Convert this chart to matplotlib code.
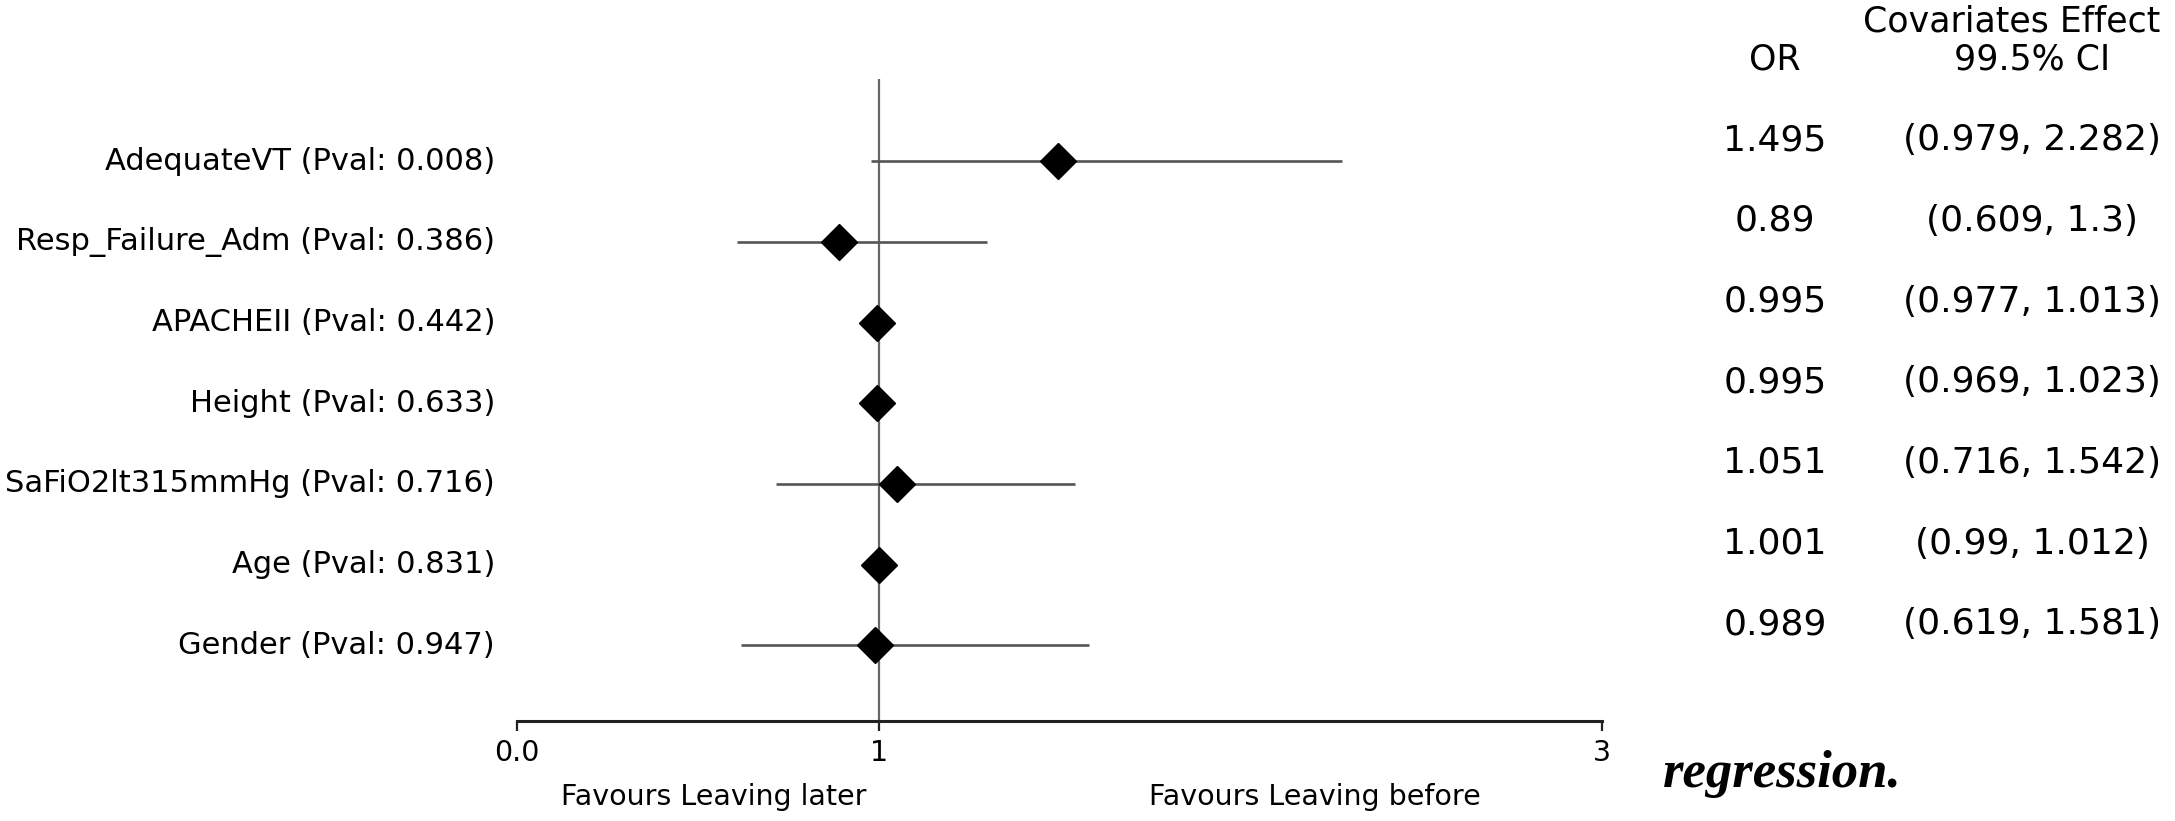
import matplotlib
matplotlib.use('Agg')
import matplotlib.pyplot as plt
import matplotlib.transforms as mtransforms

# datos del forest plot
variables = ['AdequateVT', 'Resp_Failure_Adm', 'APACHEII', 'Height',
             'SaFiO2lt315mmHg', 'Age', 'Gender']
pvals = ['0.008', '0.386', '0.442', '0.633', '0.716', '0.831', '0.947']
odds = [1.495, 0.89, 0.995, 0.995, 1.051, 1.001, 0.989]
ci_low = [0.979, 0.609, 0.977, 0.969, 0.716, 0.99, 0.619]
ci_high = [2.282, 1.3, 1.013, 1.023, 1.542, 1.012, 1.581]
xticks = [0, 1, 3]
xtick_labels = ['0.0', '1', '3']

W, H = 2175, 821
fig = plt.figure(figsize=(W / 100, H / 100), dpi=100)

# ejes: x=0 en 517px, x=3 en 1602px, eje en y=721px, tope en y=79px
ax = fig.add_axes([517 / W, 1 - 721 / H, (1602 - 517) / W, (721 - 79) / H])
ax.set_xlim(0, 3)
ax.set_ylim(6.94, -1.02)

rows = list(range(len(variables)))
ax.axvline(1, color='#666666', lw=1.6, zorder=1)
ax.hlines(rows, ci_low, ci_high, color='#555555', lw=1.9, zorder=2)
ax.plot(odds, rows, 'D', color='black', markersize=18, zorder=3)

for s in ['top', 'right', 'left']:
  ax.spines[s].set_visible(False)
ax.spines['bottom'].set_linewidth(2.2)
ax.spines['bottom'].set_color('#222222')
ax.set_yticks([])
ax.set_xticks(xticks)
ax.set_xticklabels(xtick_labels, fontsize=20.5)
ax.tick_params(axis='x', length=7, width=1.6, color='#222222', pad=6)

# etiquetas de la izquierda
lab_tr = mtransforms.blended_transform_factory(fig.transFigure, ax.transData)
for i, (v, p) in enumerate(zip(variables, pvals)):
  ax.text(495 / W, i, v + ' (Pval: ' + p + ')', transform=lab_tr,
          ha='right', va='center', fontsize=22)

# columnas OR y CI a la derecha
for i in rows:
  ax.text(1775 / W, i - 0.26, str(odds[i]), transform=lab_tr,
          ha='center', va='center', fontsize=26)
  ax.text(2032 / W, i - 0.26, '(' + str(ci_low[i]) + ', ' + str(ci_high[i]) + ')',
          transform=lab_tr, ha='center', va='center', fontsize=26)

fig.text(2012 / W, 1 - 22 / H, 'Covariates Effect', ha='center', va='center', fontsize=25)
fig.text(1775 / W, 1 - 60 / H, 'OR', ha='center', va='center', fontsize=25)
fig.text(2032 / W, 1 - 60 / H, '99.5% CI', ha='center', va='center', fontsize=25)

fig.text(714 / W, 1 - 797 / H, 'Favours Leaving later', ha='center', va='center', fontsize=20.5)
fig.text(1315 / W, 1 - 797 / H, 'Favours Leaving before', ha='center', va='center', fontsize=20.5)

fig.text(1663 / W, 1 - 774 / H, 'regression.', ha='left', va='center', fontsize=38,
         family='Liberation Serif', weight='bold', style='italic', color='black')

plt.savefig('out.png', dpi=100)
plt.close()
